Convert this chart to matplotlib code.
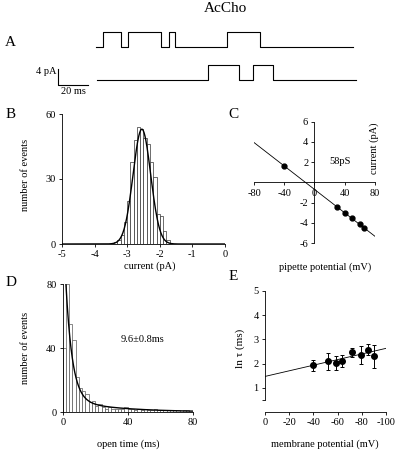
import numpy as np
import matplotlib
matplotlib.use("Agg")
import matplotlib.pyplot as plt

plt.rcParams['font.family'] = ['Liberation Serif', 'DejaVu Serif']
plt.rcParams['axes.unicode_minus'] = False

# A: single channel traces (ms), open/close transition times
trace1_t = [0, 4.9, 16.4, 21.6, 43.3, 48.9, 52.7, 87.1, 109.3, 171.6]
trace1_open = [0, 1, 0, 1, 0, 1, 0, 1, 0, 0]
trace2_t = [0.4, 74.4, 95.3, 104.4, 118.2, 173.3]
trace2_open = [0, 1, 0, 1, 0, 0]
open_amp = 3.75   # pA
trace1_offset = 8.3

# B: current amplitude histogram
b_bins = [-3.4, -3.3, -3.2, -3.1, -3.0, -2.9, -2.8, -2.7, -2.6, -2.5,
          -2.4, -2.3, -2.2, -2.1, -2.0, -1.9, -1.8]
b_counts = [1, 2, 4, 10, 20, 38, 48, 54, 53, 49, 46, 38, 31, 14, 13, 6, 2]
b_mu, b_sigma, b_amp = -2.55, 0.27, 53

# C: I-V relation
c_volt = [-40, 30, 40, 50, 60, 66]
c_curr = [1.6, -2.45, -3.0, -3.5, -4.1, -4.5]
c_slope, c_icpt = -0.058, -0.7

# D: open time histogram (2 ms bins)
d_bins = list(range(0, 80, 2))
d_counts = [40, 80, 55, 45, 22, 15, 13, 11, 6, 7, 4, 5, 3, 2, 3, 2, 2, 2, 2, 3,
            2, 2, 1, 2, 1, 2, 1, 1, 2, 1, 1, 1, 1, 1, 1, 1, 0, 1, 1, 0]
d_a1, d_tau1, d_a2, d_tau2 = 119, 4.0, 8, 30.0

# E: ln tau vs membrane potential
e_volt = [-40, -52, -59, -64, -72, -79, -85, -90]
e_lntau = [1.93, 2.1, 2.02, 2.1, 2.46, 2.35, 2.57, 2.3]
e_err = [0.23, 0.35, 0.3, 0.25, 0.2, 0.38, 0.22, 0.48]
e_icpt, e_slope = 1.47, -0.0116

W, H = 402, 455
fig = plt.figure(figsize=(W / 100, H / 100), dpi=100)


def box(l, t, r, b):
    return [l / W, 1 - b / H, (r - l) / W, (b - t) / H]


def ftext(x, y, s, **kw):
    kw.setdefault('ha', 'center')
    kw.setdefault('va', 'center')
    fig.text(x / W, 1 - y / H, s, **kw)


def style(ax):
    for s in ['top', 'right']:
        ax.spines[s].set_visible(False)
    for s in ['left', 'bottom']:
        ax.spines[s].set_linewidth(0.6)
    ax.tick_params(labelsize=7.5, length=2.5, width=0.6, pad=2)


ftext(225, 9, 'AcCho', size=11)

# ---- A
axA = fig.add_axes(box(40, 20, 362, 100))
axA.set_xlim(-37.33, 177.33)
axA.set_ylim(-5, 15)
axA.axis('off')
axA.step(trace1_t, [trace1_offset + o * open_amp for o in trace1_open],
         where='post', color='k', lw=0.8)
axA.step(trace2_t, [o * open_amp for o in trace2_open],
         where='post', color='k', lw=0.8)
axA.plot([-25.3, -25.3, -5.3], [2.75, -1.25, -1.25], color='k', lw=0.8)
axA.text(-26.5, 2.0, '4 pA', ha='right', va='center', size=7.5)
axA.text(-15.3, -3.0, '20 ms', ha='center', va='center', size=7.5)
ftext(10, 43, 'A', size=11)

# ---- B
axB = fig.add_axes(box(62, 114, 225, 244))
style(axB)
axB.bar(b_bins, b_counts, width=0.1, align='edge', facecolor='white',
        edgecolor='0.2', lw=0.5)
xb = np.linspace(-5, 0, 400)
axB.plot(xb, b_amp * np.exp(-(xb - b_mu) ** 2 / (2 * b_sigma ** 2)), color='k', lw=1.0)
axB.set_xlim(-5, 0)
axB.set_ylim(0, 60)
axB.set_xticks([-5, -4, -3, -2, -1, 0])
axB.set_yticks([0, 30, 60])
ftext(150, 266, 'current (pA)', size=7.5)
ftext(26, 175, 'number of events', size=7.5, rotation=90)
ftext(11, 115, 'B', size=11)

# ---- C
axC = fig.add_axes(box(254, 121.7, 375, 243))
style(axC)
axC.spines['left'].set_position('zero')
axC.spines['bottom'].set_position('zero')
xc = np.array([-80, 80])
axC.plot(xc, c_slope * xc + c_icpt, color='k', lw=0.6)
axC.plot(c_volt, c_curr, 'o', color='k', ms=3.5)
axC.set_xlim(-80, 80)
axC.set_ylim(-6, 6)
axC.set_xticks([-80, -40, 0, 40, 80])
axC.set_yticks([-6, -4, -2, 2, 4, 6])
ftext(374, 148, 'current (pA)', size=7.5, rotation=90)
ftext(340, 161, '58pS', size=7.5)
ftext(325, 267, 'pipette potential (mV)', size=7.5)
ftext(233, 114, 'C', size=11)

# ---- D
axD = fig.add_axes(box(62.7, 284, 192.7, 412))
style(axD)
axD.bar(d_bins, d_counts, width=2, align='edge', facecolor='white',
        edgecolor='0.35', lw=0.5)
xd = np.linspace(2, 80, 400)
axD.plot(xd, d_a1 * np.exp(-xd / d_tau1) + d_a2 * np.exp(-xd / d_tau2), color='k', lw=1.0)
axD.set_xlim(0, 80)
axD.set_ylim(0, 80)
axD.set_xticks([0, 40, 80])
axD.set_yticks([0, 40, 80])
ftext(143, 340, '9.6±0.8ms', size=7.5)
ftext(128, 444, 'open time (ms)', size=7.5)
ftext(26, 348, 'number of events', size=7.5, rotation=90)
ftext(11, 282, 'D', size=11)

# ---- E
axE = fig.add_axes(box(265, 291, 386, 412))
style(axE)
xe = np.array([0, -100])
axE.plot(xe, e_icpt + e_slope * xe, color='k', lw=0.6)
axE.errorbar(e_volt, e_lntau, yerr=e_err, fmt='o', color='k', ms=4,
             capsize=1.5, elinewidth=0.7, capthick=0.7)
axE.set_xlim(0, -100)
axE.set_ylim(0, 5)
axE.spines['left'].set_bounds(0.5, 5)
axE.set_xticks([0, -20, -40, -60, -80, -100])
axE.set_yticks([0.5, 1, 2, 3, 4, 5])
axE.set_yticklabels(['', '1', '2', '3', '4', '5'])
ftext(240, 348, 'ln τ (ms)', size=8, rotation=90)
ftext(325, 444, 'membrane potential (mV)', size=7.5)
ftext(233, 277, 'E', size=11)

fig.savefig('out.png', dpi=100)
